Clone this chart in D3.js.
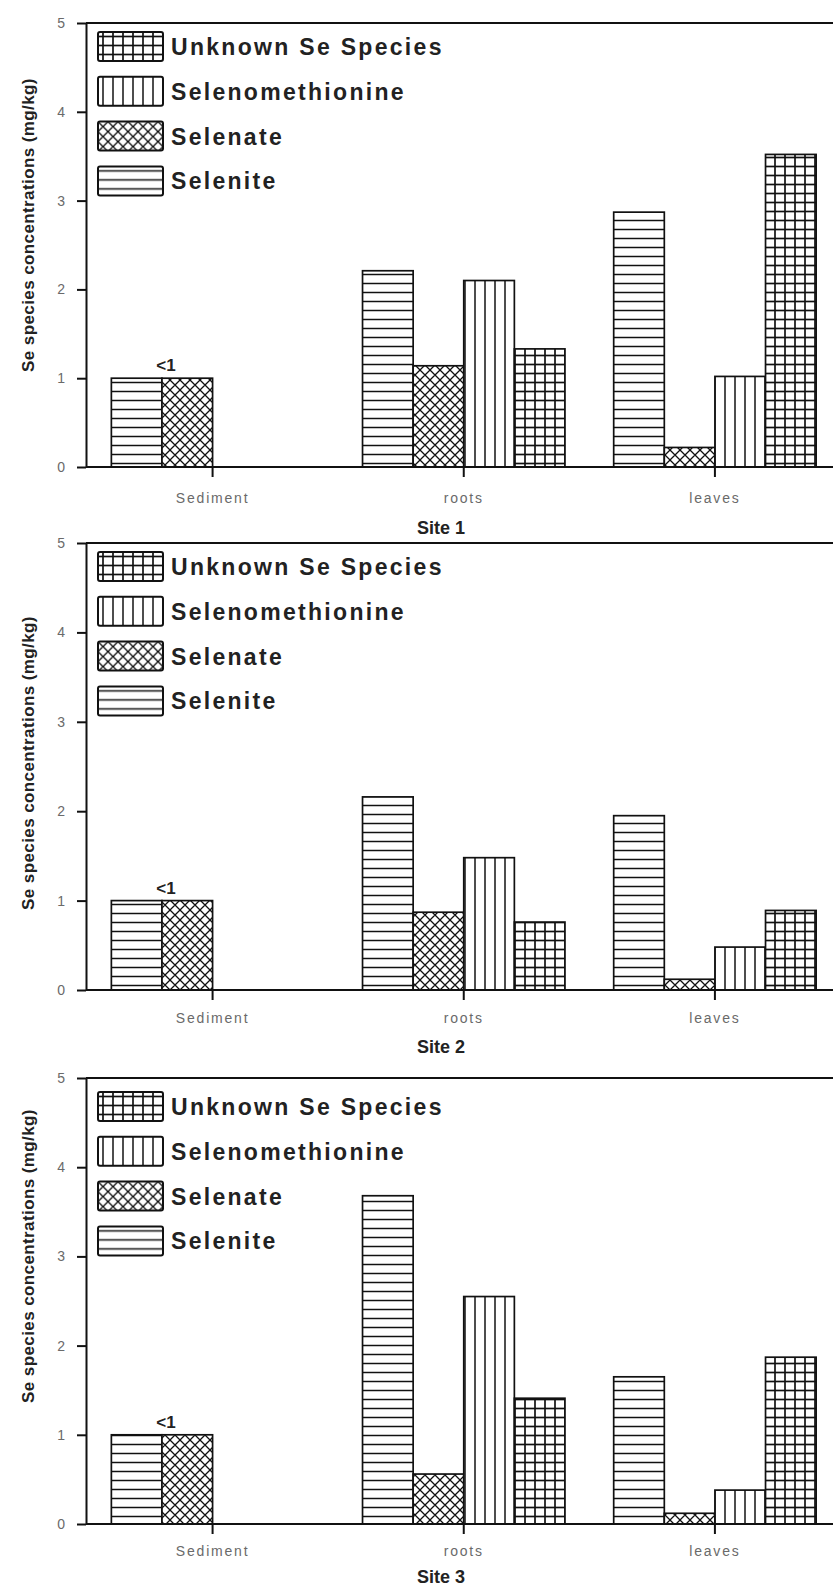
<!DOCTYPE html>
<meta charset="utf-8">
<style>
body { margin: 0; background: #fff; }
svg text { font-family: "Liberation Sans", Arial, sans-serif; }
.axis path, .axis line { stroke: #111; stroke-width: 2; }
.legend text { font-size: 23px; font-weight: bold; fill: #222; letter-spacing: 2.3px; }
.site { font-size: 18px; font-weight: bold; fill: #222; text-anchor: middle; }
.ytitle { font-size: 17px; font-weight: bold; fill: #222; text-anchor: middle; letter-spacing: 0.4px; }
.bar { stroke: #111; stroke-width: 1.7; }
</style>
<svg width="833" height="1589"></svg>
<script src="https://d3js.org/d3.v7.min.js"></script>
<script>

const categories = ["Sediment", "roots", "leaves"];
const species = ["Selenite", "Selenate", "Selenomethionine", "Unknown Se Species"];
const legendOrder = ["Unknown Se Species", "Selenomethionine", "Selenate", "Selenite"];
const yTicks = [0, 1, 2, 3, 4, 5];
const siteLabels = ["Site 1", "Site 2", "Site 3"];
const yTitle = "Se species concentrations (mg/kg)";
const sedimentNote = "<1";

// site 1
const site1Selenite = [1.0, 2.21, 2.87];
const site1Selenate = [1.0, 1.14, 0.22];
const site1Selenomethionine = [null, 2.10, 1.02];
const site1Unknown = [null, 1.33, 3.52];

// site 2
const site2Selenite = [1.0, 2.16, 1.95];
const site2Selenate = [1.0, 0.87, 0.12];
const site2Selenomethionine = [null, 1.48, 0.48];
const site2Unknown = [null, 0.76, 0.89];

// site 3
const site3Selenite = [1.0, 3.68, 1.65];
const site3Selenate = [1.0, 0.56, 0.12];
const site3Selenomethionine = [null, 2.55, 0.38];
const site3Unknown = [null, 1.41, 1.87];

const siteSeries = [
	[site1Selenite, site1Selenate, site1Selenomethionine, site1Unknown],
	[site2Selenite, site2Selenate, site2Selenomethionine, site2Unknown],
	[site3Selenite, site3Selenate, site3Selenomethionine, site3Unknown]
];

// vertical placement of each of the three stacked panels
const panels = [
	{top: 23, base: 467, labelDy: 38, titleDy: 67, yTitle: 225, legendTop: 32},
	{top: 543, base: 990, labelDy: 35, titleDy: 63, yTitle: 763, legendTop: 552},
	{top: 1078, base: 1524, labelDy: 34, titleDy: 59, yTitle: 1256, legendTop: 1092}
];

let svg = d3.select("svg");
let defs = svg.append("defs");

// fill patterns
function addPattern(id, w, h, draw) {
	let p = defs.append("pattern")
		.attr("id", id)
		.attr("patternUnits", "userSpaceOnUse")
		.attr("width", w)
		.attr("height", h);
	p.append("rect").attr("width", w).attr("height", h).attr("fill", "#fff");
	draw(p);
}
addPattern("hlines", 10, 9, p => {
	p.append("line").attr("x1", 0).attr("x2", 10).attr("y1", 4.5).attr("y2", 4.5)
		.attr("stroke", "#111").attr("stroke-width", 1.5);
});
addPattern("vlines", 10, 10, p => {
	p.append("line").attr("x1", 5).attr("x2", 5).attr("y1", 0).attr("y2", 10)
		.attr("stroke", "#111").attr("stroke-width", 1.5);
});
addPattern("grid", 10, 9, p => {
	p.append("line").attr("x1", 5).attr("x2", 5).attr("y1", 0).attr("y2", 9)
		.attr("stroke", "#111").attr("stroke-width", 1.7);
	p.append("line").attr("x1", 0).attr("x2", 10).attr("y1", 4.5).attr("y2", 4.5)
		.attr("stroke", "#111").attr("stroke-width", 1.7);
});
addPattern("cross", 10, 10, p => {
	p.append("path").attr("d", "M0,0L10,10M10,0L0,10M-5,5L5,15M5,-5L15,5M-5,5L5,-5M5,15L15,5")
		.attr("stroke", "#111").attr("stroke-width", 1.3).attr("fill", "none");
});

let fills = {
	"Selenite": "url(#hlines)",
	"Selenate": "url(#cross)",
	"Selenomethionine": "url(#vlines)",
	"Unknown Se Species": "url(#grid)"
};

let x = d3.scaleBand()
	.domain(categories)
	.range([87, 840.5])
	.paddingInner(0.194)
	.paddingOuter(0.097);

let xs = d3.scaleBand()
	.domain(species)
	.range([0, x.bandwidth()]);

panels.forEach((pn, si) => {
	let y = d3.scaleLinear().domain([0, 5]).range([pn.base, pn.top]);
	let g = svg.append("g");

	// bars
	let rows = [];
	siteSeries[si].forEach((vals, k) => {
		vals.forEach((v, c) => {
			if (v != null) rows.push({cat: categories[c], sp: species[k], v: v});
		});
	});
	g.selectAll("rect.bar")
		.data(rows)
		.enter()
		.append("rect")
		.attr("class", "bar")
		.attr("x", d => x(d.cat) + xs(d.sp))
		.attr("width", xs.bandwidth())
		.attr("y", d => y(d.v))
		.attr("height", d => y(0) - y(d.v))
		.attr("fill", d => fills[d.sp]);

	// "<1" note above sediment bars
	g.append("text")
		.attr("x", x("Sediment") + xs("Selenate") + 4)
		.attr("y", y(1) - 7)
		.attr("text-anchor", "middle")
		.attr("font-size", 17)
		.attr("font-weight", "bold")
		.attr("fill", "#222")
		.text(sedimentNote);

	// axes
	let yAxis = g.append("g")
		.attr("class", "axis")
		.attr("transform", "translate(86,0)")
		.call(d3.axisLeft(y).tickValues(yTicks).tickSize(9).tickSizeOuter(0).tickPadding(12).tickFormat(d3.format("d")));
	yAxis.selectAll("text")
		.style("font-size", "14px")
		.style("fill", "#6a6a6a");

	let xAxis = g.append("g")
		.attr("class", "axis")
		.attr("transform", "translate(0," + pn.base + ")")
		.call(d3.axisBottom(x).tickSize(10).tickSizeOuter(0).tickPadding(pn.labelDy - 22));
	xAxis.select(".domain").attr("d", "M86,0H833");
	xAxis.selectAll("text")
		.style("font-size", "14px")
		.style("fill", "#6a6a6a")
		.style("letter-spacing", "1.8px");

	// top frame line
	g.append("line")
		.attr("x1", 86).attr("x2", 833)
		.attr("y1", y(5)).attr("y2", y(5))
		.attr("stroke", "#111").attr("stroke-width", 2);

	// titles
	g.append("text")
		.attr("class", "site")
		.attr("x", 441)
		.attr("y", pn.base + pn.titleDy)
		.text(siteLabels[si]);

	g.append("text")
		.attr("class", "ytitle")
		.attr("transform", "translate(34," + pn.yTitle + ") rotate(-90)")
		.text(yTitle);

	// legend
	let lg = g.append("g").attr("class", "legend");
	let items = lg.selectAll("g")
		.data(legendOrder)
		.enter()
		.append("g")
		.attr("transform", (d, i) => "translate(98," + (pn.legendTop + i * 44.8) + ")");
	items.append("rect")
		.attr("width", 65)
		.attr("height", 29)
		.attr("fill", d => fills[d])
		.attr("stroke", "#111")
		.attr("stroke-width", 2)
		.attr("rx", 2);
	items.append("text")
		.attr("x", 73)
		.attr("y", 23)
		.text(d => d);
});

</script>
